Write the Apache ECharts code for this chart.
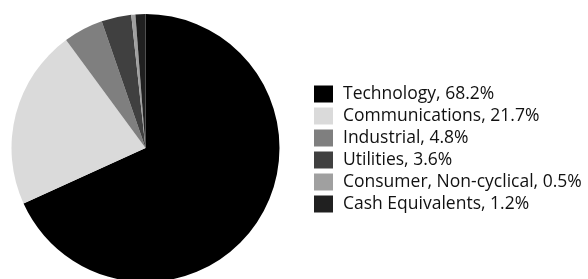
<!DOCTYPE html>
<html><head><meta charset="utf-8">
<script src="https://cdn.jsdelivr.net/npm/echarts@6/dist/echarts.min.js"></script>
<style>html,body{margin:0;padding:0;background:#fff}#c{width:588px;height:279px}</style>
</head><body><div id="c"></div>
<script>
const categories = ["Technology", "Communications", "Industrial", "Utilities", "Consumer, Non-cyclical", "Cash Equivalents"];
const values = [68.2, 21.7, 4.8, 3.6, 0.5, 1.2];
const colors = ["#000000", "#dadada", "#7f7f7f", "#404040", "#a0a0a0", "#202020"];

const chart = echarts.init(document.getElementById('c'), null, {renderer: 'canvas'});
chart.setOption({
  animation: false,
  legend: {
    orient: 'vertical', left: 314, top: 85, padding: 0,
    icon: 'rect', itemWidth: 19, itemHeight: 17, itemGap: 4,
    textStyle: {fontFamily: 'Open Sans', fontSize: 17.5, color: '#111', padding: [0,0,0,5]},
    formatter: function (name) { const i = categories.indexOf(name); return name + ', ' + values[i].toFixed(1) + '%'; },
    selectedMode: false
  },
  series: [{
    type: 'pie', center: [145.5, 148], radius: 134, startAngle: 90, clockwise: true,
    label: {show: false}, labelLine: {show: false},
    itemStyle: {borderWidth: 0},
    emphasis: {disabled: true},
    data: categories.map((n, i) => ({name: n, value: values[i], itemStyle: {color: colors[i]}}))
  }]
});
</script></body></html>
